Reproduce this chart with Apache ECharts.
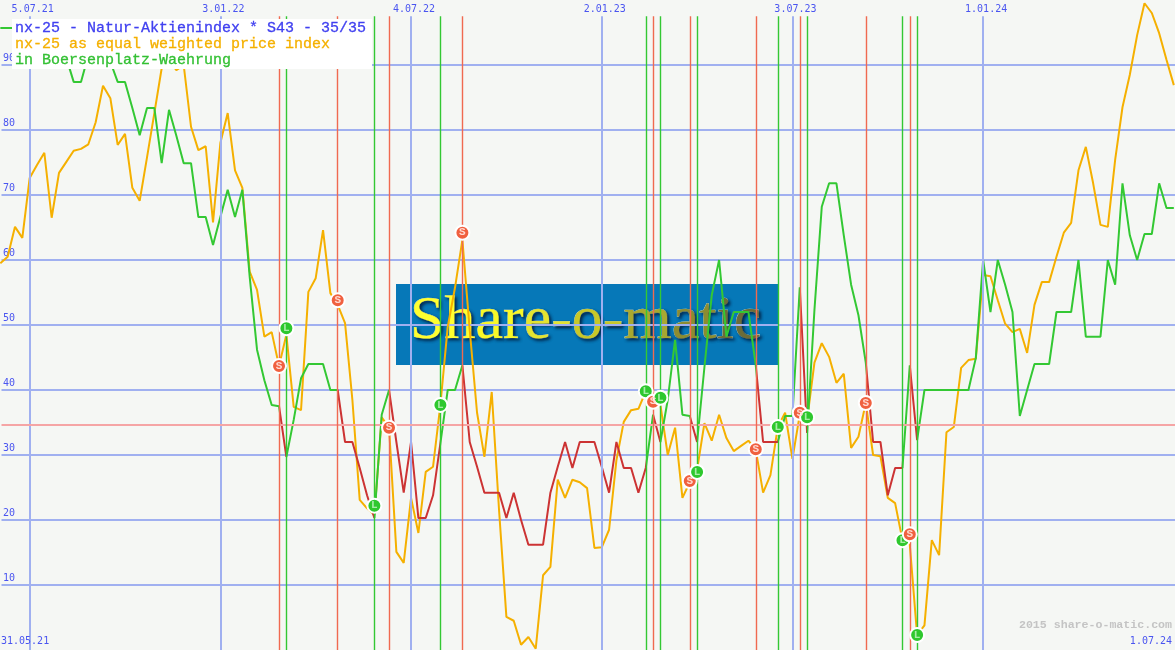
<!DOCTYPE html>
<html>
<head>
<meta charset="utf-8">
<title>nx-25 - Natur-Aktienindex</title>
<style>html,body{margin:0;padding:0;background:#f5f7f4}#c{width:1175px;height:650px}</style>
<script src="https://cdn.jsdelivr.net/npm/echarts@6/dist/echarts.min.js"></script>
</head>
<body>
<div id="c"></div>
<script>
const priceIndex = [59.5,60.5,65.1,63.4,72.6,74.6,76.5,66.5,73.4,75.1,76.8,77.1,77.8,81.2,86.8,84.9,77.7,79.4,71.1,69.1,
75.8,82.6,89.5,90.8,89.2,90,80.5,76.9,77.5,65.8,78,82.6,73.8,71.1,58.2,55.4,48.2,48.9,43.7,48.5,
37.4,36.9,55.1,57.2,64.6,54.9,53.1,50.3,38.5,23.1,21.8,20.8,35.8,34.2,15.1,13.4,23.4,18,27.4,28.2,
37.7,49.7,55.8,63.1,49.2,36.5,29.7,39.7,21.5,5.1,4.5,0.8,2,0.2,11.5,12.8,26.2,23.4,26.2,25.8,
24.9,15.7,15.8,18.5,29.2,35.1,36.9,37.1,39.8,38,37.7,30,34.2,23.4,25.8,27.7,34.9,32.2,36.2,32.6,
30.6,31.4,32.2,30.8,24.2,26.9,34.3,36.5,29.4,36.2,35.4,44.2,47.2,45.1,41.1,42.5,31.1,32.8,38,30,
29.8,23.4,22.6,16.9,16.2,2.3,3.8,16.9,14.6,33.5,34.3,43.4,44.6,44.8,57.7,57.5,53.8,50.2,48.9,49.4,
45.7,53.1,56.6,56.6,60.5,64.2,65.7,73.8,77.4,71.8,65.4,65.1,75.4,83.5,88.5,94.6,99.5,98,94.9,90.8,86.9];

const naturIndex = [95.7,95.7,95.7,93.8,93.1,93.8,92.3,93.1,92.3,91.1,87.4,87.4,91.5,93.1,92.3,90.5,87.4,87.4,83.4,79.2,
83.4,83.4,74.9,83.1,79.1,74.9,74.9,66.6,66.6,62.3,66.6,70.8,66.6,70.8,57.4,46.2,41.5,37.7,37.5,29.7,
35.4,41.8,44,44,44,40,40,32,32,28,23.8,20.3,36.2,40,32,24.2,32,20.3,20.3,23.8,
31.8,40,40,43.8,32,28.2,24.2,24.2,24.2,20.3,24.2,20,16.2,16.2,16.2,24.2,28.2,32,28,32,
32,32,28.2,24.2,32,28,28,24.2,28,36.2,32,38.5,47.7,36.2,36,32,43.5,54.6,60,48.2,
52,52,52,43.8,32,32,32,36,36,55.8,33.4,52.3,68.2,71.8,71.8,63.8,56.2,51.5,44.2,32,
32,23.8,28,28,43.8,32.3,40,40,40,40,40,40,40,44.9,60,52,60,56.2,52,36,
40,44,44,44,52,52,52,60,48.2,48.2,48.2,60,56.2,71.8,63.8,60,64,64,71.8,68,68];

const signalWeeks  = [38,39,46,51,53,60,63,88,89,90,94,95,103,106,109,110,118,123,124,125];
const signalKinds  = ['S','L','S','L','S','L','S','L','S','L','S','L','S','L','S','L','S','L','S','L'];
const signalValues = [43.7,49.5,53.8,22.2,34.2,37.7,64.2,39.8,38.2,38.8,26,27.4,30.9,34.3,36.5,35.8,38,16.9,17.8,2.3];

const dateWeeks  = [4,30,56,82,108,134];
const dateLabels = ['5.07.21','3.01.22','4.07.22','2.01.23','3.07.23','1.01.24'];
const stopLevel  = 34.6;
const yTicks     = [10,20,30,40,50,60,70,80,90];

const BLUE='#4a55f0', GRID='#a0b0f0', RED='#f06a50', GREEN='#33c833', ORANGE='#f5b000', SHORT='#cc3333';
const MONO='"Liberation Mono", monospace';
const SMALL='"DejaVu Sans Mono", monospace';

const weekAxis = priceIndex.map((_, i) => i);
const priceData = weekAxis.map(i => [i, priceIndex[i]]);
const naturData = weekAxis.map(i => [i, naturIndex[i]]);

// short phases: from each S signal to the following L signal
const shortPieces = [];
signalKinds.forEach((k, i) => {
  if (k === 'S' && i + 1 < signalKinds.length) shortPieces.push({gte: signalWeeks[i], lt: signalWeeks[i + 1], color: SHORT});
});

const signalLine = kind => ({
  name: 'signals ' + kind, type: 'line', data: [], silent: true, z: 1,
  markLine: {
    silent: true, symbol: 'none', animation: false, label: {show: false},
    lineStyle: {color: kind === 'S' ? RED : GREEN, width: 1.4, type: 'solid', opacity: 1},
    data: signalWeeks.filter((w, i) => signalKinds[i] === kind).map(w => [{coord: [w, 0]}, {coord: [w, 97.5]}])
  }
});

const logoParts = ['Sh','ar','e-','o-','m','at','ic'];
const logoFills = ['#ffff30','#f8f828','#e4e430','#c8c828','#a8a830','#8c8c30','#6c6c38'];
const logoRich = {};
logoParts.forEach((p, i) => {
  logoRich['p' + i] = {
    fill: logoFills[i], fontSize: 62, fontFamily: '"Liberation Serif", serif',
    stroke: '#e4ecc8', lineWidth: 0.6,
    textShadowColor: 'rgba(0,20,50,0.8)', textShadowBlur: 3, textShadowOffsetX: 2, textShadowOffsetY: 2
  };
});

const chart = echarts.init(document.getElementById('c'), null, {renderer: 'canvas'});
chart.setOption({
  animation: false,
  backgroundColor: '#f5f7f4',
  grid: {left: 0, right: 0, top: 0, bottom: 0, containLabel: false},
  xAxis: {type: 'value', min: 0.16, max: 160.16, axisLine: {show: false}, axisTick: {show: false}, axisLabel: {show: false}, splitLine: {show: false}},
  yAxis: {
    type: 'value', min: 0, max: 100, interval: 10,
    axisLine: {show: false}, axisTick: {show: false},
    splitLine: {show: true, showMinLine: false, showMaxLine: false, lineStyle: {color: GRID, width: 2}},
    axisLabel: {
      inside: true, margin: 1.5, color: BLUE, fontFamily: SMALL, fontSize: 10, verticalAlign: 'bottom', padding: [0, 0, 2, 0],
      formatter: v => yTicks.includes(v) ? String(v) : ''
    }
  },
  visualMap: {
    show: false, type: 'piecewise', seriesIndex: 5, dimension: 0,
    pieces: shortPieces, outOfRange: {color: GREEN}
  },
  series: [
    { // vertical date lines and their labels
      name: 'dates', type: 'line', data: [], silent: true, z: 1,
      markLine: {
        silent: true, symbol: 'none', animation: false,
        lineStyle: {color: GRID, width: 2, type: 'solid'},
        label: {show: true, position: 'end', distance: 2, offset: [3, 0], formatter: '{b}', color: BLUE, fontFamily: SMALL, fontSize: 10},
        data: dateWeeks.map((w, i) => [{coord: [w, 0], name: dateLabels[i]}, {coord: [w, 97.5]}])
      }
    },
    { // stop level
      name: 'level', type: 'line', data: [], silent: true, z: 1,
      markLine: {
        silent: true, symbol: 'none', animation: false, label: {show: false},
        lineStyle: {color: '#f5a5a5', width: 2, type: 'solid'},
        data: [{yAxis: stopLevel}]
      }
    },
    signalLine('S'),
    signalLine('L'),
    {
      name: 'nx-25 as equal weighted price index', type: 'line', data: priceData,
      showSymbol: false, symbol: 'none', z: 3,
      lineStyle: {color: ORANGE, width: 2}, itemStyle: {color: ORANGE}
    },
    {
      name: 'nx-25 - Natur-Aktienindex * S43 - 35/35', type: 'line', data: naturData,
      showSymbol: false, symbol: 'none', z: 4,
      lineStyle: {width: 2}
    },
    {
      name: 'Signale', type: 'scatter', z: 6, symbol: 'circle', symbolSize: 14,
      data: signalWeeks.map((w, i) => ({
        value: [w, signalValues[i]],
        itemStyle: {color: signalKinds[i] === 'S' ? '#f0603f' : '#2ec82e', borderColor: '#ffffff', borderWidth: 2, opacity: 1},
        label: {
          show: true, position: 'inside', formatter: signalKinds[i],
          color: signalKinds[i] === 'S' ? '#ffd8d0' : '#a8eca8',
          fontFamily: MONO, fontSize: 11, fontWeight: 'bold'
        }
      }))
    }
  ],
  graphic: [
    {type: 'rect', z: -1, silent: true, shape: {x: 396, y: 284, width: 382, height: 81}, style: {fill: '#0678b8'}},
    {type: 'text', z: -1, silent: true, x: 410, y: 291, style: {
      text: logoParts.map((p, i) => '{p' + i + '|' + p + '}').join(''),
      rich: logoRich, font: '62px "Liberation Serif", serif', fill: '#ffff30'
    }},
    {type: 'rect', z: 50, silent: true, shape: {x: 12, y: 19, width: 360, height: 50}, style: {fill: '#ffffff'}},
    {type: 'text', z: 51, silent: true, x: 15, y: 21, style: {text: 'nx-25 - Natur-Aktienindex * S43 - 35/35', font: '15px ' + MONO, fill: '#4040f0', stroke: '#4040f0', lineWidth: 0.3}},
    {type: 'text', z: 51, silent: true, x: 15, y: 37, style: {text: 'nx-25 as equal weighted price index', font: '15px ' + MONO, fill: ORANGE, stroke: ORANGE, lineWidth: 0.3}},
    {type: 'text', z: 51, silent: true, x: 15, y: 53, style: {text: 'in Boersenplatz-Waehrung', font: '15px ' + MONO, fill: '#33c033', stroke: '#33c033', lineWidth: 0.3}},
    {type: 'text', z: 51, silent: true, x: 1, y: 636, style: {text: '31.05.21', font: '10px ' + SMALL, fill: BLUE}},
    {type: 'text', z: 51, silent: true, x: 1172, y: 636, style: {text: '1.07.24', font: '10px ' + SMALL, fill: BLUE, textAlign: 'right'}},
    {type: 'text', z: 51, silent: true, x: 1172, y: 619, style: {text: '2015 share-o-matic.com', font: 'bold 11.6px ' + MONO, fill: '#c4c4c4', textAlign: 'right'}}
  ]
});
</script>
</body>
</html>
